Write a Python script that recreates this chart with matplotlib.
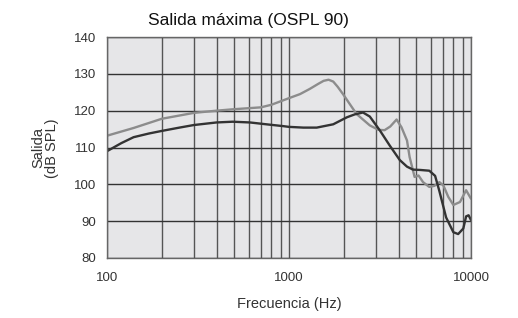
import matplotlib
matplotlib.use("Agg")
import matplotlib.pyplot as plt
from matplotlib.ticker import FixedLocator, NullFormatter

plt.rcParams['font.family'] = ['Liberation Sans', 'DejaVu Sans']

title = "Salida máxima (OSPL 90)"
xlabel = "Frecuencia (Hz)"
ylabel = "Salida\n(dB SPL)"

x_ticks = [100, 1000, 10000]
x_tick_labels = ["100", "1000", "10000"]
y_ticks = [80, 90, 100, 110, 120, 130, 140]

# light gray curve
gray_f = [100, 140, 200, 300, 400, 500, 700, 800, 1000, 1150, 1300, 1450, 1550, 1650, 1750,
          1850, 1980, 2350, 2780, 3100, 3350, 3600, 3900, 4150, 4450, 4600, 4900, 5150,
          5450, 5900, 6300, 6700, 7050, 7500, 8000, 8700, 9400, 10000]
gray_db = [113.2, 115.3, 117.8, 119.4, 120.0, 120.4, 120.9, 121.6, 123.4, 124.5, 125.9, 127.3, 128.1, 128.4, 127.9,
           126.5, 124.5, 119.1, 116.0, 114.8, 114.7, 115.7, 117.6, 115.5, 111.9, 107.4, 102.0, 102.4,
           100.6, 99.3, 99.6, 100.6, 99.7, 96.6, 94.4, 95.2, 98.4, 96.1]

# dark curve
dark_f = [100, 120, 140, 170, 200, 250, 300, 400, 490, 610, 750, 930, 1000, 1200, 1420,
          1750, 2080, 2300, 2550, 2780, 3160, 3580, 4060, 4450, 4800, 5270, 5900,
          6350, 6700, 7300, 8000, 8500, 9070, 9400, 9700, 10000]
dark_db = [109.0, 111.2, 112.8, 113.8, 114.5, 115.4, 116.1, 116.8, 117.0, 116.8, 116.3, 115.8, 115.6, 115.4, 115.4,
           116.3, 118.2, 119.0, 119.5, 118.4, 114.6, 110.5, 106.6, 104.8, 104.0, 103.9, 103.7,
           102.3, 98.2, 91.0, 87.0, 86.5, 88.0, 91.3, 91.6, 90.3]

fig = plt.figure(figsize=(5.18, 3.18), dpi=100)
ax = fig.add_axes([107/518, 1 - 258/318, (471 - 107)/518, (258 - 37)/318])
ax.set_facecolor('#e6e6e8')
ax.set_xscale('log')
ax.set_xlim(100, 10000)
ax.set_ylim(80, 140)

ax.xaxis.set_major_locator(FixedLocator(x_ticks))
ax.set_xticklabels(x_tick_labels)
ax.xaxis.set_minor_locator(FixedLocator([m * d for d in (100, 1000) for m in range(2, 10)]))
ax.xaxis.set_minor_formatter(NullFormatter())
ax.set_yticks(y_ticks)

ax.grid(True, which='both', axis='x', color='#555555', linewidth=1.0)
ax.grid(True, which='major', axis='y', color='#333333', linewidth=1.0)
ax.set_axisbelow(True)

ax.plot(gray_f, gray_db, color='#8c8c8c', linewidth=1.7, solid_capstyle='round', solid_joinstyle='round')
ax.plot(dark_f, dark_db, color='#333333', linewidth=1.7, solid_capstyle='round', solid_joinstyle='round')

for s in ax.spines.values():
    s.set_color('#666666')
    s.set_linewidth(1.0)

ax.tick_params(which='both', length=0, labelsize=9.5, colors='#333333')
ax.tick_params(axis='x', pad=10)
ax.tick_params(axis='y', pad=7.5)

fig.text(148/518, 1 - 20/318, title, fontsize=12.5, ha='left', va='center', color='#111111')
fig.text(289/518, 1 - 304/318, xlabel, fontsize=10.5, ha='center', va='center', color='#333333')
fig.text(45/518, 1 - 148/318, ylabel, fontsize=10.5, ha='center', va='center', rotation=90,
         color='#333333', linespacing=1.0)

fig.savefig("out.png", dpi=100)
